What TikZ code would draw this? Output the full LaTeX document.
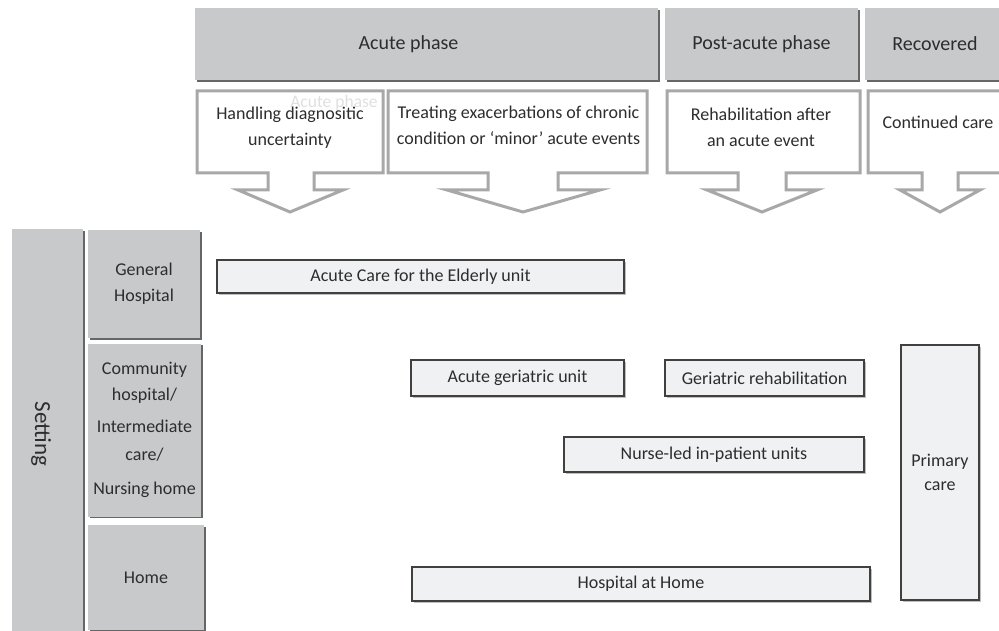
\documentclass[tikz,border=0pt]{standalone}
\usepackage{fontspec}
\setmainfont{Carlito}
\usepackage{tikz}
\usetikzlibrary{shadows}
\definecolor{phasegray}{RGB}{200,201,203}
\definecolor{calloutgray}{RGB}{168,168,168}
\definecolor{unitfill}{RGB}{240,241,243}
\definecolor{unitdraw}{RGB}{64,64,64}
\definecolor{textgray}{RGB}{45,45,45}
\tikzset{phase box/.style={fill=phasegray, inner sep=0pt, text=textgray, font=\fontsize{20}{24}\selectfont, drop shadow={shadow xshift=1.8pt, shadow yshift=-1.8pt, fill=black!60, opacity=1}}}
\tikzset{setting box/.style={fill=phasegray, inner sep=0pt, align=center, text=textgray, font=\fontsize{18}{26}\selectfont, drop shadow={shadow xshift=1.8pt, shadow yshift=-1.8pt, fill=black!60, opacity=1}}}
\tikzset{care box/.style={draw=unitdraw, line width=1.3pt, fill=unitfill, inner sep=0pt, align=center, text=textgray, font=\fontsize{18}{24}\selectfont, drop shadow={shadow xshift=2pt, shadow yshift=-2pt, fill=black!25, opacity=1}}}
\tikzset{stage callout/.style={draw=calloutgray, line width=3pt, fill=white, line join=miter}}
\tikzset{callout text/.style={align=center, text=textgray, inner sep=0pt, font=\fontsize{18}{26}\selectfont}}

\begin{document}
\begin{tikzpicture}[x=1pt, y=-1pt]
\useasboundingbox (0,0) rectangle (999,631);

% phases
\node[phase box, minimum width=463pt, minimum height=72pt,
      label={[text=textgray, font=\fontsize{20}{24}\selectfont, xshift=-18pt]center:Acute phase}] (acute) at (426.5,44) {};
\node[phase box, minimum width=193pt, minimum height=72pt] (postacute) at (761.5,44) {Post-acute phase};
\node[phase box, minimum width=140pt, minimum height=72pt] (recovered) at (935,44) {Recovered};

% callout arrows
\draw[stage callout] (197,91) -- (383,91) -- (383,173) -- (314,173) -- (314,190) -- (343,190) -- (290,212) -- (238,190) -- (268,190) -- (268,173) -- (197,173) -- cycle;
\draw[stage callout] (388,91) -- (647,91) -- (647,173) -- (558,173) -- (558,190) -- (600,190) -- (523,212) -- (447,190) -- (488,190) -- (488,173) -- (388,173) -- cycle;
\draw[stage callout] (667,91) -- (860,91) -- (860,173) -- (786,173) -- (786,190) -- (817,190) -- (762,212) -- (707,190) -- (738,190) -- (738,173) -- (667,173) -- cycle;
\draw[stage callout] (868,91) -- (1010,91) -- (1010,173) -- (958,173) -- (958,190) -- (980,190) -- (940,212) -- (900,190) -- (922,190) -- (922,173) -- (868,173) -- cycle;

\node[callout text, text=black!12, font=\fontsize{17.5}{20}\selectfont] (ghost) at (334,103) {Acute phase};
\node[callout text] (uncertainty) at (290,128) {Handling diagnositic\\uncertainty};
\node[callout text] (exacerbation) at (518.5,125) {Treating exacerbations of chronic\\condition or ‘minor’ acute events};
\node[callout text] (rehab) at (761,127) {Rehabilitation after\\an acute event};
\node[callout text] (continued) at (938,122) {Continued care};

% settings
\node[setting box, minimum width=71pt, minimum height=402pt] (setting) at (47.5,430) {};
\node[callout text, rotate=-90, font=\fontsize{23}{26}\selectfont] (settinglabel) at (41,434) {Setting};
\node[setting box, minimum width=112pt, minimum height=108pt] (general) at (144,284) {General\\Hospital};
\node[setting box, minimum width=113pt, minimum height=173pt] (community) at (144.5,430) {Community\\[-0pt]hospital/\\[6pt]Intermediate\\[2pt]care/\\[8pt]Nursing home};
\node[setting box, minimum width=116pt, minimum height=105pt] (home) at (146,577.5) {Home};

% care units
\node[care box, minimum width=407pt, minimum height=33pt] (ace) at (420.5,276.5) {Acute Care for the Elderly unit};
\node[care box, minimum width=213pt, minimum height=36pt] (agu) at (517.5,378) {Acute geriatric unit};
\node[care box, minimum width=199pt, minimum height=36pt] (georehab) at (764.5,378) {Geriatric rehabilitation};
\node[care box, minimum width=300pt, minimum height=35pt] (nurseled) at (714,454.5) {Nurse-led in-patient units};
\node[care box, minimum width=458pt, minimum height=34pt] (hospathome) at (641,584) {Hospital at Home};
\node[care box, minimum width=78pt, minimum height=255pt] (primary) at (940,472.5) {Primary\\care};

\end{tikzpicture}
\end{document}
